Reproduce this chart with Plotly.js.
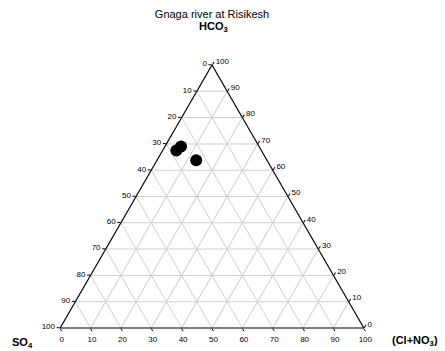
<!DOCTYPE html>
<html><head><meta charset="utf-8">
<script src="https://cdn.plot.ly/plotly-3.0.1.min.js"></script>
<style>body{margin:0;padding:0;background:#fff}#chart{width:445px;height:351px}</style>
</head><body><div id="chart"></div>
<script>
// Sample composition (% of total anions)
const hco3 = [67.5, 69.0, 63.8];
const so4 = [28.0, 25.7, 23.3];
const clno3 = [4.5, 5.3, 12.9];
const tickVals = [0, 10, 20, 30, 40, 50, 60, 70, 80, 90, 100];
const tickTextRev = ['100', '90', '80', '70', '60', '50', '40', '30', '20', '10', '0'];
const titleText = 'Gnaga river at Risikesh';
const labelA = '<b>HCO<sub>3</sub></b>';
const labelB = '<b>SO<sub>4</sub></b>';
const labelC = '<b>(Cl+NO<sub>3</sub>)</b>';

const font = {family: 'Arial, "Liberation Sans", sans-serif', color: '#000'};
function axis() {
  return {
    title: {text: ''},
    tickmode: 'array', tickvals: tickVals, ticktext: tickTextRev,
    tickfont: Object.assign({size: 8}, font),
    ticks: 'outside', ticklen: 3, tickcolor: '#000', tickwidth: 1,
    linecolor: '#000', linewidth: 1.2, showline: true,
    gridcolor: '#cfcfcf', gridwidth: 1, showgrid: true, min: 0
  };
}
const trace = {
  type: 'scatterternary', mode: 'markers',
  a: hco3, b: so4, c: clno3,
  marker: {color: '#000', size: 12, line: {width: 0}},
  hoverinfo: 'skip'
};
const W = 445, H = 351;
function ann(text, x, y) {
  return {text: text, xref: 'paper', yref: 'paper', x: x / W, y: 1 - y / H,
    xanchor: 'center', yanchor: 'middle', showarrow: false,
    font: Object.assign({size: 11}, font)};
}
const layout = {
  width: W, height: H,
  margin: {l: 0, r: 0, t: 0, b: 0},
  paper_bgcolor: '#fff',
  showlegend: false,
  title: {text: titleText, font: Object.assign({size: 11}, font), x: 212 / W, xanchor: 'center', y: 1 - 14 / H, yanchor: 'middle'},
  ternary: {
    sum: 100,
    bgcolor: '#fff',
    domain: {x: [40 / W, (W - 61) / W], y: [23 / H, 1 - 65 / H]},
    aaxis: axis(),
    baxis: axis(),
    caxis: axis()
  },
  annotations: [ann(labelA, 213, 27), ann(labelB, 22, 343), ann(labelC, 415, 341)]
};
Plotly.newPlot('chart', [trace], layout, {staticPlot: true, displayModeBar: false});
</script></body></html>
